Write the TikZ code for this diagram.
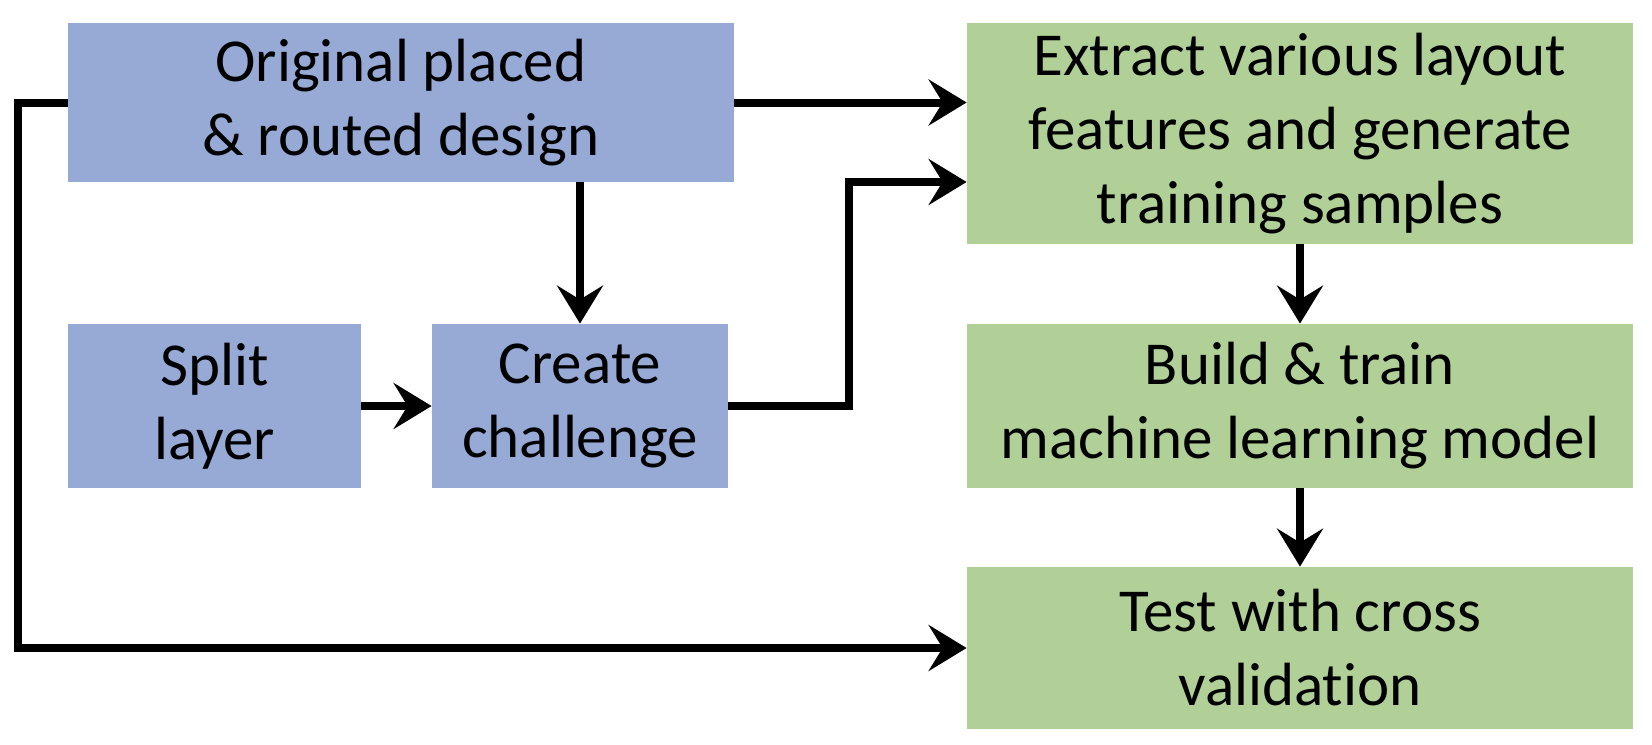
\documentclass[tikz,border=0pt]{standalone}
\usepackage{fontspec}
\setmainfont{Carlito}[Ligatures={NoCommon}]
\usetikzlibrary{arrows.meta}
\definecolor{boxblue}{RGB}{150,170,213}
\definecolor{boxgreen}{RGB}{177,208,152}
\begin{document}
\begin{tikzpicture}[x=0.5pt,y=-0.5pt,
  box/.style={inner sep=0pt, align=center, font=\fontsize{30.5}{37}\selectfont},
  bluebox/.style={box, fill=boxblue},
  greenbox/.style={box, fill=boxgreen},
  conn/.style={line width=4pt, -{Stealth[length=19pt,width=23pt,inset=7pt]}, line join=miter}
]
\useasboundingbox (0,0) rectangle (1652,744);
\fill[white] (0,0) rectangle (1652,744);
\node[bluebox, minimum width=333pt, minimum height=79.5pt] (orig) at (401,102.5) {Original placed\\\& routed design};
\node[bluebox, minimum width=146.5pt, minimum height=82pt] (split) at (214.5,406) {Split\\layer};
\node[bluebox, minimum width=148pt, minimum height=82pt] (create) at (580,406) {Create\\challenge};
\node[greenbox, minimum width=333pt, minimum height=110.5pt] (extract) at (1300,133.5) {Extract various layout\\features and generate\\training samples};
\node[greenbox, minimum width=333pt, minimum height=82pt] (build) at (1300,406) {Build \& train\\machine learning model};
\node[greenbox, minimum width=333pt, minimum height=81pt] (test) at (1300,648) {Test with cross\\validation};
\coordinate (k1) at (849,182);
\coordinate (k2) at (18,400);
\draw[conn] (orig.east) -- (orig.east -| extract.west);
\draw[conn] (orig.south -| create.north) -- (create.north);
\draw[conn] (split.east) -- (create.west);
\draw[conn] (create.east) -| (k1) -- (k1 -| extract.west);
\draw[conn] (extract.south) -- (build.north);
\draw[conn] (build.south) -- (test.north);
\draw[conn] (orig.west) -| (k2) |- (test.west);
\end{tikzpicture}
\end{document}
